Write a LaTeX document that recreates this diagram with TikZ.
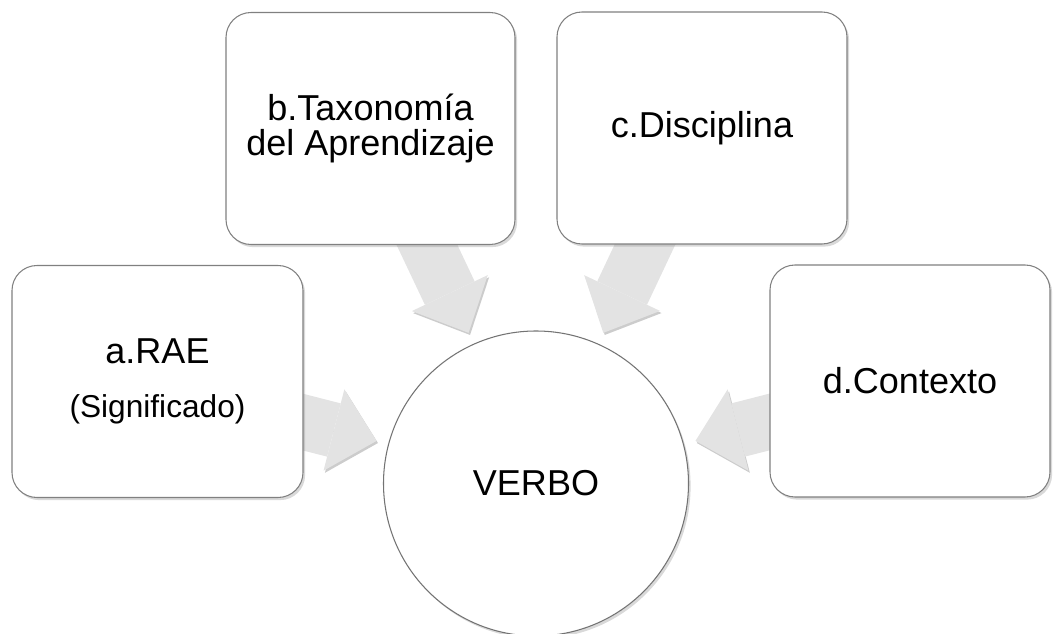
\documentclass[tikz,border=0pt]{standalone}
\usepackage{fontspec}
\setmainfont{Liberation Sans}
\usetikzlibrary{arrows.meta,shadows,backgrounds}

\begin{document}
\begin{tikzpicture}[font=\fontsize{20.5}{20}\selectfont,
  box/.style={draw=black!50, fill=white, rounded corners=0.5cm, line width=0.6pt, align=center, minimum height=4.64cm,
    drop shadow={shadow xshift=1.2pt, shadow yshift=-1.5pt, opacity=0.3}},
  flow/.style={draw=black!11, line width=1.1cm, -{Triangle[length=0.88cm, width=1.68cm, line width=0pt]}, shorten >=0.24cm,
    preaction={draw=black!20, transform canvas={shift={(0.8pt,-1.2pt)}}}}]
	\useasboundingbox (0,0) rectangle (21.06,-12.68);
	% the four sources
	\node[box, minimum width=5.82cm] (rae) at (3.15,-7.63) {a.RAE\\[11pt]{\fontsize{18}{20}\selectfont(Significado)}};
	\node[box, minimum width=5.78cm] (tax) at (7.41,-2.57) {b.Taxonomía\\del Aprendizaje};
	\node[box, minimum width=5.80cm] (disc) at (14.04,-2.56) {c.Disciplina};
	\node[box, minimum width=5.60cm] (ctx) at (18.2,-7.62) {d.Contexto};
	% the centre
	\node[circle, draw=black!55, fill=white, line width=0.6pt, minimum size=6.1cm,
	  drop shadow={shadow xshift=1.2pt, shadow yshift=-1.5pt, opacity=0.3}] (verbo) at (10.72,-9.67) {VERBO};
	\begin{scope}[on background layer]
	\draw[flow] ([xshift=-0.41cm,yshift=-0.71cm]rae.east) -- (verbo.165);
	\draw[flow] ([xshift=0.96cm,yshift=0.36cm]tax.south) -- (verbo.114);
	\draw[flow] ([xshift=-0.97cm,yshift=0.36cm]disc.south) -- (verbo.66);
	\draw[flow] ([xshift=0.39cm,yshift=-0.72cm]ctx.west) -- (verbo.15);
	\end{scope}
\end{tikzpicture}
\end{document}
